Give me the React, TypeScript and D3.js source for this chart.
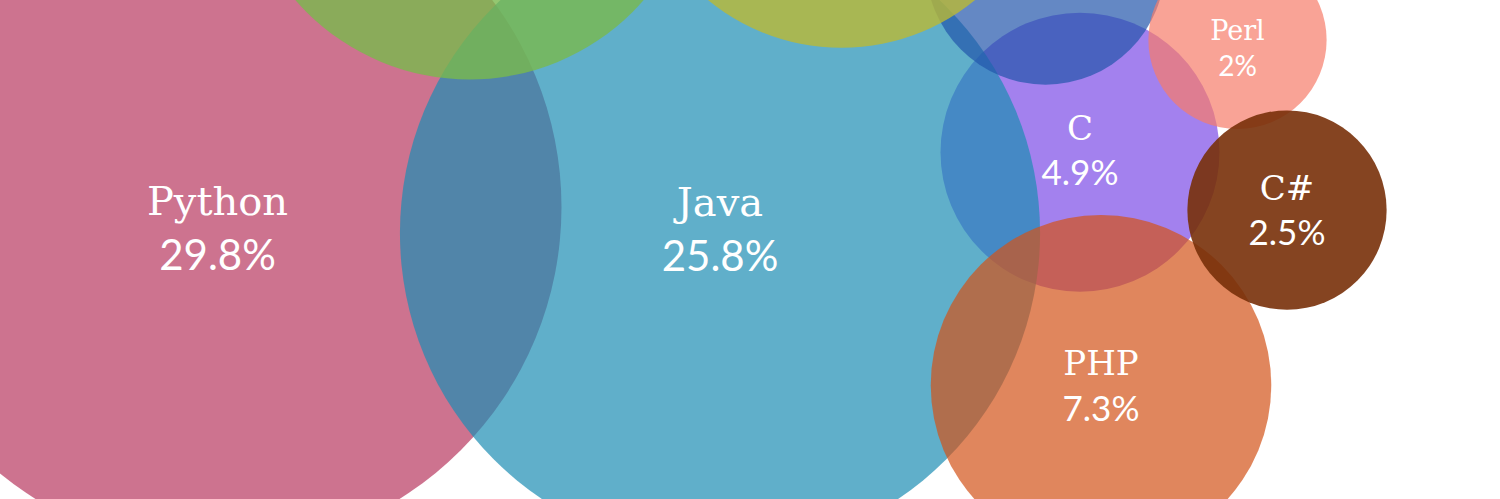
import React from "react";
import * as d3 from "d3";

// bubbles listed bottom-to-top (draw order); three unlabeled ones sit above the frame
const languages = ["C", "Python", "Java", "", "", "", "PHP", "Perl", "C#"];
const shares = [4.9, 29.8, 25.8, 3.6, 13.4, 11.2, 7.3, 2, 2.5];
// bubble centres as % of the frame
const posX = [72.0, 14.5, 48.0, 69.7, 31.3, 56.1, 73.4, 82.5, 85.8];
const posY = [30.5, 41.5, 46.7, -7.0, -30.3, -32.7, 77.2, 8.0, 42.1];
// label nudges (px) from the bubble centre
const labelDy = [-2, 20, -5, 0, 0, 0, 0, 8, 0];

const colors = ["#7c4ce7", "#b83760", "#1c8db3", "#2256ab", "#79b94c", "#bab934", "#d35218", "#f67c69", "#783009"];
const opacities = [0.7, 0.7, 0.7, 0.7, 0.8, 0.8, 0.7, 0.7, 0.9];

const width = 1500,
  height = 499;

export default function App(): JSX.Element {
  const x = d3.scaleLinear().domain([0, 100]).range([0, width]);
  const y = d3.scaleLinear().domain([0, 100]).range([0, height]);
  const r = d3.scaleSqrt().domain([0, 29.8]).range([0, 344]);
  const nameSize = d3.scaleThreshold<number, number>().domain([95, 300]).range([27, 34, 40]);
  const pctSize = d3.scaleThreshold<number, number>().domain([95, 300]).range([28, 35, 42]);

  const bubbles = languages.map((name, i) => ({
    name,
    value: shares[i],
    cx: x(posX[i]),
    cy: y(posY[i]),
    r: r(shares[i]),
    dy: labelDy[i],
    color: colors[i],
    opacity: opacities[i],
  }));

  return (
    <svg
      width={width}
      height={height}
      style={{ position: "absolute", left: 0, top: 0, background: "#fff" }}
    >
      <g>
        {bubbles.map((d, i) => (
          <circle key={i} cx={d.cx} cy={d.cy} r={d.r} fill={d.color} fillOpacity={d.opacity} />
        ))}
      </g>
      <g fill="#fff" textAnchor="middle">
        {bubbles
          .filter((d) => d.name !== "")
          .map((d, i) => {
            const nf = nameSize(d.r);
            const pf = pctSize(d.r);
            const base = d.cy + d.dy - 0.3 * nf;
            return (
              <g key={i}>
                <text x={d.cx} y={base} fontFamily="DejaVu Serif" fontSize={nf}>
                  {d.name}
                </text>
                <text x={d.cx} y={base + 1.3 * pf} fontFamily="Lato" fontSize={pf}>
                  {d.value}%
                </text>
              </g>
            );
          })}
      </g>
    </svg>
  );
}
